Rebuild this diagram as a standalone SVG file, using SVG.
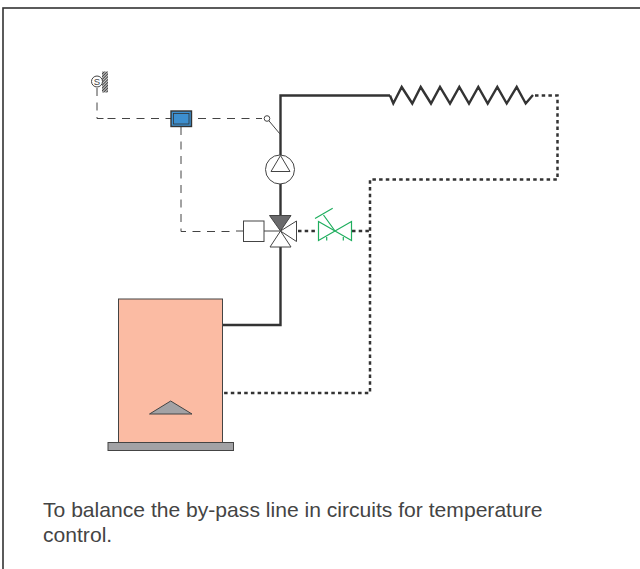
<svg xmlns="http://www.w3.org/2000/svg" width="640" height="569" viewBox="0 0 640 569">
<defs>
<pattern id="hatch" width="2" height="2" patternUnits="userSpaceOnUse" patternTransform="rotate(45)">
<rect width="2" height="2" fill="#ccc"/><rect width="1" height="2" fill="#444"/>
</pattern>
</defs>
<style>
.pipe{fill:none;stroke:#333;stroke-width:2.4}
.ret{fill:none;stroke:#333;stroke-width:2.5;stroke-dasharray:3.5 3.2}
.ctl{fill:none;stroke:#444;stroke-width:1;stroke-dasharray:8 6.500}
.sym{fill:#fff;stroke:#444;stroke-width:1}
.grn{fill:none;stroke:#1fae5e;stroke-width:1.2}
text{font-family:"Liberation Sans",Arial,sans-serif;font-size:21.100px;fill:#444}
</style>
<rect x="3" y="8" width="640" height="570" fill="#fff" stroke="#333" stroke-width="1.600"/>
<g id="connectors">
<path class="pipe" d="M223 325H280.500V247"/>
<path class="pipe" d="M280.500 184V216"/>
<path class="pipe" d="M280.500 155V95.500H390"/>
<path class="pipe" d="M390 95.500L393.300 103.500L401.700 87L412.300 103.500L420.700 87L431 103.500L440 87L450 103.500L459.300 87L469 103.500L478.300 87L487.700 103.500L497.300 87L506.700 103.500L516.700 87L525.700 103.500L533 95"/>
<path class="ret" d="M535 95.500H557.500V179.500H370V393H223"/>
<path class="ret" d="M298 231H318M352 231H370"/>
<path class="ctl" d="M97 88V118.500H104"/>
<path class="ctl" d="M107.500 118.500H171M198 118.500H262"/>
<path class="ctl" d="M181 127V231.500H236"/>
<path d="M267 118.500L280 134" fill="none" stroke="#444" stroke-width="1"/>
<path d="M236 231H244M264 231H281" fill="none" stroke="#444" stroke-width="1"/>
</g>
<g id="sensor">
<rect x="102" y="71.500" width="6" height="21" fill="url(#hatch)"/>
<circle cx="97" cy="81.500" r="5.500" class="sym"/>
<text x="97" y="85" text-anchor="middle" style="font-size:9.500px">S</text>
</g>
<g id="controller">
<rect x="171" y="111" width="20.500" height="15.500" fill="#3d8fcf" stroke="#333" stroke-width="1.400"/>
<rect x="173.500" y="113.500" width="15.500" height="10.500" fill="#3d8fcf" stroke="#333" stroke-width="0.800"/>
</g>
<g id="sensor-tap"><circle cx="267" cy="118.500" r="2.800" class="sym"/></g>
<g id="pump">
<circle cx="280" cy="169.500" r="14.500" class="sym"/>
<path class="sym" d="M280.500 155.500L271 171.500H290Z"/>
</g>
<g id="actuator"><rect x="243.500" y="221" width="20.500" height="20.500" class="sym"/></g>
<g id="three-way-valve">
<path d="M269.500 215.500H291L280.500 231Z" fill="#6a6a6c" stroke="#444" stroke-width="1"/>
<path class="sym" d="M280.500 231L270 247H291Z"/>
<path class="sym" d="M280.500 231L296.500 221V241.500Z"/>
</g>
<g id="balancing-valve">
<path class="grn" d="M318.500 221.500L351.500 240.500V221.500L318.500 240.500Z"/>
<path class="grn" d="M335 231L323.500 215M315 218.500L332.700 208.300"/>
<path class="grn" stroke-width="2" d="M326.700 237V240.500M343.300 237V240.500"/>
</g>
<g id="boiler">
<rect x="118.500" y="299" width="104" height="143.500" fill="#fbbba3" stroke="#444" stroke-width="1"/>
<rect x="108" y="442.500" width="125.500" height="8" fill="#a2a2a5" stroke="#444" stroke-width="1"/>
<path d="M149.500 414L170.700 401L192 414Z" fill="#a2a2a5" stroke="#444" stroke-width="1"/>
</g>
<g id="caption">
<text x="43" y="517">To balance the by-pass line in circuits for temperature</text>
<text x="43" y="542">control.</text>
</g>
</svg>
